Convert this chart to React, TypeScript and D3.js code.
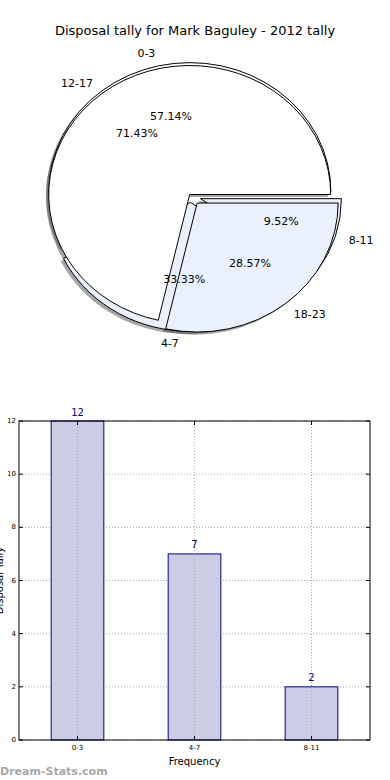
import React, { useEffect, useRef } from "react";
import * as d3 from "d3";

// pie: two overlapping pies, as in the source picture
const pieOneLabels = ["0-3", "4-7", "8-11"];
const pieOneValues = [12, 7, 2];
const pieOneExplode = [0.035, 0.05, 0.07];

const pieTwoLabels = ["12-17", "18-23"];
const pieTwoValues = [15, 6];
const pieTwoExplode = [0.015, 0.07];

// bars
const barCategories = ["0-3", "4-7", "8-11"];
const barValues = [12, 7, 2];
const yTicks = [0, 2, 4, 6, 8, 10, 12];

const W = 390;
const H = 780;
const FONT = "DejaVu Sans, Verdana, sans-serif";
const WHITE = "#ffffff";
const LIGHT = "#eaf0fc";

function App() {
  const svgRef = useRef<SVGSVGElement | null>(null);

  useEffect(() => {
    const svg = d3.select(svgRef.current);
    svg.selectAll("*").remove();

    svg
      .append("rect")
      .attr("width", W)
      .attr("height", H)
      .attr("fill", "#fff");

    svg
      .append("text")
      .attr("x", 195)
      .attr("y", 30)
      .attr("text-anchor", "middle")
      .attr("dominant-baseline", "central")
      .style("font-family", FONT)
      .style("font-size", "13px")
      .text("Disposal tally for Mark Baguley - 2012 tally");

    // ---- pie ----
    const cx = 191;
    const cy = 196;
    const rx = 141;
    const ry = 129;

    // counter-clockwise from 3 o'clock, like matplotlib
    const pie = d3
      .pie<number>()
      .sort(null)
      .startAngle(Math.PI / 2)
      .endAngle(Math.PI / 2 - 2 * Math.PI);
    const arc = d3.arc<any>().innerRadius(0).outerRadius(1);

    const pies = [
      { labels: pieOneLabels, values: pieOneValues, explode: pieOneExplode, colors: [WHITE, LIGHT, LIGHT] },
      { labels: pieTwoLabels, values: pieTwoValues, explode: pieTwoExplode, colors: [WHITE, LIGHT] },
    ];

    const slices = pies.map((p) => {
      const total = d3.sum(p.values);
      return pie(p.values).map((a, i) => {
        const m = (a.startAngle + a.endAngle) / 2;
        const e = p.explode[i];
        return {
          a,
          m,
          ox: cx + e * rx * Math.sin(m),
          oy: cy - e * ry * Math.cos(m),
          color: p.colors[i],
          label: p.labels[i],
          pct: d3.format(".2f")((100 * p.values[i]) / total) + "%",
        };
      });
    });

    const pieG = svg.append("g");

    // shadows below every wedge
    slices.flat().forEach((s) => {
      pieG
        .append("path")
        .attr("d", arc(s.a))
        .attr("transform", `translate(${s.ox - 0.02 * rx},${s.oy + 0.02 * ry}) scale(${rx},${ry})`)
        .attr("fill", "#4d4d4d")
        .attr("fill-opacity", 0.5);
    });

    slices.forEach((group) => {
      group.forEach((s) => {
        pieG
          .append("path")
          .attr("d", arc(s.a))
          .attr("transform", `translate(${s.ox},${s.oy}) scale(${rx},${ry})`)
          .attr("fill", s.color)
          .attr("stroke", "#000")
          .attr("stroke-width", 1)
          .attr("stroke-linejoin", "miter")
          .attr("vector-effect", "non-scaling-stroke");
      });
    });

    slices.flat().forEach((s) => {
      const sx = Math.sin(s.m);
      const sy = -Math.cos(s.m);
      pieG
        .append("text")
        .attr("x", s.ox + 1.1 * rx * sx)
        .attr("y", s.oy + 1.1 * ry * sy)
        .attr("text-anchor", sx > 0 ? "start" : "end")
        .attr("dominant-baseline", "central")
        .style("font-family", FONT)
        .style("font-size", "11px")
        .text(s.label);
      pieG
        .append("text")
        .attr("x", s.ox + 0.6 * rx * sx)
        .attr("y", s.oy + 0.6 * ry * sy)
        .attr("text-anchor", "middle")
        .attr("dominant-baseline", "central")
        .style("font-family", FONT)
        .style("font-size", "11px")
        .text(s.pct);
    });

    // ---- bar chart ----
    const left = 19;
    const right = 370;
    const top = 421;
    const bottom = 740;

    const x = d3
      .scaleBand()
      .domain(barCategories)
      .range([left, right])
      .paddingInner(0.55)
      .paddingOuter(0.275);
    const y = d3.scaleLinear().domain([0, 12]).range([bottom, top]);
    const xc = (c: string) => (x(c) as number) + x.bandwidth() / 2;

    const g = svg.append("g");

    g.selectAll(".hgrid")
      .data(yTicks)
      .enter()
      .append("line")
      .attr("x1", left)
      .attr("x2", right)
      .attr("y1", (d) => y(d))
      .attr("y2", (d) => y(d))
      .attr("stroke", "#aaa")
      .attr("stroke-width", 1)
      .attr("stroke-dasharray", "1,2");

    g.selectAll(".bar")
      .data(barValues)
      .enter()
      .append("rect")
      .attr("x", (d, i) => x(barCategories[i]) as number)
      .attr("y", (d) => y(d))
      .attr("width", x.bandwidth())
      .attr("height", (d) => bottom - y(d))
      .attr("fill", "#ccccE5")
      .attr("stroke", "#000080")
      .attr("stroke-width", 1);

    g.selectAll(".vgrid")
      .data(barCategories)
      .enter()
      .append("line")
      .attr("x1", (d) => xc(d))
      .attr("x2", (d) => xc(d))
      .attr("y1", top)
      .attr("y2", bottom)
      .attr("stroke", "#aaa")
      .attr("stroke-width", 1)
      .attr("stroke-dasharray", "1,2");

    g.selectAll(".val")
      .data(barValues)
      .enter()
      .append("text")
      .attr("x", (d, i) => xc(barCategories[i]))
      .attr("y", (d) => y(d) - 9)
      .attr("text-anchor", "middle")
      .attr("dominant-baseline", "central")
      .attr("fill", "#000080")
      .style("font-family", FONT)
      .style("font-size", "10px")
      .text((d) => String(d));

    g.append("rect")
      .attr("x", left)
      .attr("y", top)
      .attr("width", right - left)
      .attr("height", bottom - top)
      .attr("fill", "none")
      .attr("stroke", "#000")
      .attr("stroke-width", 1);

    // inward ticks on all four sides
    yTicks.forEach((t) => {
      g.append("line").attr("x1", left).attr("x2", left + 4).attr("y1", y(t)).attr("y2", y(t)).attr("stroke", "#000");
      g.append("line").attr("x1", right - 4).attr("x2", right).attr("y1", y(t)).attr("y2", y(t)).attr("stroke", "#000");
      g.append("text")
        .attr("x", left - 3)
        .attr("y", y(t))
        .attr("text-anchor", "end")
        .attr("dominant-baseline", "central")
        .style("font-family", FONT)
        .style("font-size", "7px")
        .text(String(t));
    });
    barCategories.forEach((c) => {
      g.append("line").attr("x1", xc(c)).attr("x2", xc(c)).attr("y1", bottom).attr("y2", bottom - 4).attr("stroke", "#000");
      g.append("line").attr("x1", xc(c)).attr("x2", xc(c)).attr("y1", top).attr("y2", top + 4).attr("stroke", "#000");
      g.append("text")
        .attr("x", xc(c))
        .attr("y", bottom + 8)
        .attr("text-anchor", "middle")
        .attr("dominant-baseline", "central")
        .style("font-family", FONT)
        .style("font-size", "7px")
        .text(c);
    });

    g.append("text")
      .attr("x", (left + right) / 2)
      .attr("y", 761)
      .attr("text-anchor", "middle")
      .attr("dominant-baseline", "central")
      .style("font-family", FONT)
      .style("font-size", "10px")
      .text("Frequency");

    // y label sits partly off the left edge, as in the source
    g.append("text")
      .attr("transform", `translate(3,${(top + bottom) / 2}) rotate(-90)`)
      .attr("text-anchor", "middle")
      .style("font-family", FONT)
      .style("font-size", "10px")
      .text("Disposal Tally");

    svg
      .append("text")
      .attr("x", 0)
      .attr("y", 771)
      .attr("dominant-baseline", "central")
      .attr("fill", "#a8a8a8")
      .style("font-family", FONT)
      .style("font-size", "11px")
      .style("font-weight", "bold")
      .text("Dream-Stats.com");
  }, []);

  return (
    <div>
      <svg
        ref={svgRef}
        width={W}
        height={H}
        style={{ position: "absolute", left: 0, top: 0 }}
      ></svg>
    </div>
  );
}

export default App;
